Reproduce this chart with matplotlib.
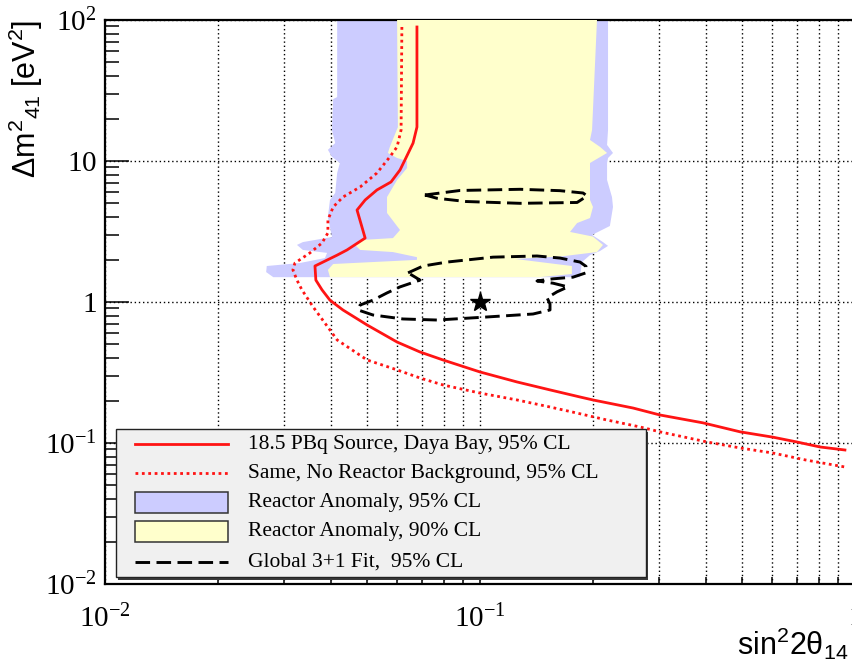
import matplotlib
matplotlib.use('Agg')
import matplotlib.pyplot as plt
from matplotlib.patches import Rectangle
from matplotlib.lines import Line2D
from matplotlib.ticker import FixedLocator, FixedFormatter, LogLocator, NullFormatter
import matplotlib.transforms as mtransforms

plt.rcParams.update({
    'mathtext.fontset': 'custom',
    'mathtext.rm': 'Liberation Serif',
    'mathtext.it': 'Liberation Serif:italic',
    'mathtext.bf': 'Liberation Serif:bold',
    'mathtext.sf': 'Liberation Sans',
    'font.family': ['Liberation Serif', 'DejaVu Serif'],
})

# ---------------- data ----------------
# 18.5 PBq source, Daya Bay, 95% CL (solid red)
red_solid_x = [0.0679, 0.0679, 0.0663, 0.0631, 0.0612, 0.0579, 0.0531, 0.0494, 0.0470, 0.0494,
               0.0442, 0.0416, 0.0363, 0.0365, 0.0379, 0.0398, 0.0431, 0.0500, 0.0601, 0.0692,
               0.0797, 0.100, 0.1255, 0.1537, 0.1848, 0.200, 0.256, 0.302, 0.393, 0.494,
               0.604, 0.696, 0.807, 0.940]
red_solid_y = [89.2, 17.4, 13.4, 10.2, 8.64, 7.10, 6.23, 5.29, 4.49, 2.84,
               2.34, 2.15, 1.80, 1.43, 1.22, 1.03, 0.878, 0.687, 0.520, 0.442,
               0.388, 0.319, 0.271, 0.238, 0.212, 0.202, 0.177, 0.158, 0.139, 0.120,
               0.110, 0.102, 0.0937, 0.0892]

# Same, no reactor background (dotted red)
red_dot_x = [0.0619, 0.0616, 0.0601, 0.0575, 0.0531, 0.0479, 0.0431, 0.0406, 0.0393, 0.0393,
             0.0379, 0.0352, 0.0321, 0.0317, 0.0325, 0.0335, 0.0359, 0.0398, 0.0416, 0.0500,
             0.0601, 0.0692, 0.0797, 0.100, 0.1255, 0.1537, 0.1815, 0.217, 0.267, 0.302,
             0.401, 0.494, 0.604, 0.740, 0.940]
red_dot_y = [89.2, 16.6, 12.6, 10.7, 8.22, 6.54, 5.55, 4.72, 3.82, 3.09,
             2.62, 2.23, 1.89, 1.69, 1.43, 1.22, 0.922, 0.633, 0.538, 0.388,
             0.330, 0.289, 0.258, 0.226, 0.202, 0.180, 0.163, 0.146, 0.130, 0.120,
             0.102, 0.0922, 0.0849, 0.0757, 0.0676]

# Reactor anomaly 95% CL region (blue)
ra95_x = [0.0416, 0.0416, 0.0406, 0.0403, 0.0411, 0.0393, 0.0403, 0.0423, 0.0416, 0.0411,
          0.0398, 0.0393, 0.0403, 0.0337, 0.0325, 0.0337, 0.0391, 0.0386, 0.0331, 0.0270,
          0.0269, 0.0281, 0.1848, 0.187, 0.1965, 0.209, 0.2195, 0.2128, 0.199, 0.222,
          0.2263, 0.2249, 0.2182, 0.2182, 0.2195, 0.2263, 0.2182, 0.2195, 0.2195]
ra95_y = [100, 28.4, 27.5, 16.6, 13.4, 12.0, 10.7, 9.68, 8.22, 5.93,
          5.29, 4.01, 2.89, 2.66, 2.54, 2.34, 2.23, 2.05, 1.89, 1.80,
          1.63, 1.50, 1.50, 1.92, 2.15, 2.30, 2.50, 2.66, 2.99, 3.46,
          4.72, 5.55, 7.33, 9.68, 10.5, 11.4, 13.0, 16.6, 100]

# Reactor anomaly 90% CL region (yellow)
ra90_x = [0.0601, 0.0604, 0.0575, 0.0568, 0.0601, 0.0639, 0.0639, 0.0601, 0.0565, 0.0565,
          0.0612, 0.0586, 0.0479, 0.0464, 0.0479, 0.0586, 0.0679, 0.0679, 0.0406, 0.0393,
          0.0398, 0.1445, 0.1758, 0.1758, 0.124, 0.1634, 0.2051, 0.2128, 0.2001, 0.1738,
          0.1815, 0.1965, 0.2001, 0.1965, 0.1965, 0.2182, 0.2089, 0.1965, 0.199, 0.2051]
ra90_y = [100, 17.4, 12.6, 11.4, 10.5, 10.0, 8.92, 7.33, 5.55, 4.28,
          3.24, 2.84, 2.75, 2.54, 2.34, 2.26, 2.08, 1.99, 1.86, 1.69,
          1.50, 1.50, 1.58, 1.80, 2.02, 2.10, 2.26, 2.54, 2.91, 3.14,
          3.63, 3.94, 4.72, 5.29, 9.68, 11.4, 12.6, 14.1, 16.6, 100]

# Global 3+1 fit, 95% CL (dashed black): upper and lower islands
fit_up_x = [0.0713, 0.0885, 0.128, 0.1634, 0.1883, 0.193, 0.1815, 0.128, 0.0918, 0.0768, 0.0713]
fit_up_y = [5.74, 6.18, 6.30, 6.16, 5.93, 5.65, 5.08, 5.01, 5.16, 5.44, 5.74]
fit_lo_x = [0.0643, 0.0705, 0.0817, 0.1083, 0.1419, 0.1634, 0.1848, 0.1917, 0.1917, 0.177,
            0.1565, 0.1419, 0.1565, 0.1716, 0.1604, 0.151, 0.1537, 0.1537, 0.1385, 0.1044,
            0.0768, 0.0623, 0.0518, 0.0473, 0.0479, 0.0518, 0.0565, 0.0612, 0.0692, 0.0643]
fit_lo_y = [1.61, 1.80, 1.92, 2.08, 2.12, 2.05, 1.92, 1.79, 1.61, 1.50,
            1.46, 1.41, 1.36, 1.28, 1.18, 1.07, 0.968, 0.878, 0.822, 0.783,
            0.745, 0.758, 0.809, 0.878, 0.952, 1.03, 1.16, 1.28, 1.43, 1.61]
best_fit_x = [0.1]
best_fit_y = [1.0]

x_ticks = [0.01, 0.1, 1.0]
x_tick_labels = [r'$10^{-2}$', r'$10^{-1}$', r'$1$']
y_ticks = [0.01, 0.1, 1.0, 10.0, 100.0]
y_tick_labels = [r'$10^{-2}$', r'$10^{-1}$', r'$1$', r'$10$', r'$10^{2}$']

legend_labels = ["18.5 PBq Source, Daya Bay, 95% CL",
                 "Same, No Reactor Background, 95% CL",
                 "Reactor Anomaly, 95% CL",
                 "Reactor Anomaly, 90% CL",
                 "Global 3+1 Fit,  95% CL"]

# ---------------- styles ----------------
RED = '#ff1414'
BLUE = '#ccccff'
YELLOW = '#ffffcc'
DOT = (0, (1, 1.3))
DASH = (0, (5, 2.2))

fig = plt.figure(figsize=(8.53, 6.65), dpi=100)
ax = fig.add_axes([105 / 853, 81 / 665, 750 / 853, 564 / 665])
ax.set_xscale('log')
ax.set_yscale('log')
ax.set_xlim(1e-2, 1)
ax.set_ylim(1e-2, 1e2)

ax.fill(ra95_x, ra95_y, color=BLUE, lw=0, zorder=2)
ax.fill(ra90_x, ra90_y, color=YELLOW, lw=0, zorder=3)
ax.plot(red_dot_x, red_dot_y, color=RED, lw=2.0, ls=DOT, zorder=5)
ax.plot(red_solid_x, red_solid_y, color=RED, lw=2.0, zorder=5)
ax.plot(fit_up_x, fit_up_y, color='k', lw=2.1, ls=DASH, zorder=6)
ax.plot(fit_lo_x, fit_lo_y, color='k', lw=2.1, ls=DASH, zorder=6)
ax.plot(best_fit_x, best_fit_y, ls='none', marker='*', ms=15, color='k', zorder=7)

ax.set_axisbelow(True)
ax.grid(True, which='both', axis='x', color='k', ls=(0, (1, 2)), lw=1.0)
ax.grid(True, which='major', axis='y', color='k', ls=(0, (1, 2)), lw=1.0)

ax.xaxis.set_major_locator(FixedLocator(x_ticks))
ax.xaxis.set_major_formatter(FixedFormatter(x_tick_labels))
ax.xaxis.set_minor_locator(LogLocator(base=10, subs=range(2, 10)))
ax.xaxis.set_minor_formatter(NullFormatter())
ax.yaxis.set_major_locator(FixedLocator(y_ticks))
ax.yaxis.set_major_formatter(FixedFormatter(y_tick_labels))
ax.yaxis.set_minor_locator(LogLocator(base=10, subs=range(2, 10)))
ax.yaxis.set_minor_formatter(NullFormatter())

ax.tick_params(which='both', direction='in', top=False, right=False, color='k')
ax.tick_params(axis='y', which='major', length=17, width=1.1, labelsize=21, pad=6)
ax.tick_params(axis='y', which='minor', length=10, width=1.1)
ax.tick_params(axis='x', which='major', length=9, width=1.1, labelsize=21, pad=15)
ax.tick_params(axis='x', which='minor', length=5, width=1.1)
for s in ax.spines.values():
    s.set_linewidth(1.6)

ax.set_ylabel(r'$\mathsf{\Delta m^{2}{}_{41}\ [eV^{2}]}$', fontsize=22, loc='top')
ax.yaxis.set_label_coords(-0.080, 1.0)
ax.set_xlabel(r'$\mathsf{sin^{2}2\theta_{14}}$', fontsize=22, loc='right')
ax.xaxis.set_label_coords(0.9907, -0.074)

# ---------------- legend (drawn as a box in axes fraction) ----------------
T = ax.transAxes
lx0, ly0, lw_, lh_ = 0.0143, 0.0124, 0.7070, 0.2619
shadow_tr = mtransforms.offset_copy(T, fig=fig, x=1.8, y=-1.8, units='points')
ax.add_patch(Rectangle((lx0, ly0), lw_, lh_, transform=shadow_tr, facecolor='#3a3a3a',
                       edgecolor='none', zorder=9, clip_on=False))
ax.add_patch(Rectangle((lx0, ly0), lw_, lh_, transform=T, facecolor='#f0f0f0',
                       edgecolor='#222222', lw=1.0, zorder=10, clip_on=False))
rows = [0.2482, 0.1962, 0.1441, 0.0927, 0.0395]
hx0, hx1 = 0.040, 0.164
ph = 0.0367
ax.add_artist(Line2D([hx0, hx1], [rows[0]] * 2, transform=T, color=RED, lw=2.0, zorder=11))
ax.add_artist(Line2D([hx0, hx1], [rows[1]] * 2, transform=T, color=RED, lw=2.0, ls=DOT, zorder=11))
ax.add_patch(Rectangle((hx0, rows[2] - ph / 2), hx1 - hx0, ph, transform=T, facecolor=BLUE,
                       edgecolor='#333333', lw=1.1, zorder=11))
ax.add_patch(Rectangle((hx0, rows[3] - ph / 2), hx1 - hx0, ph, transform=T, facecolor=YELLOW,
                       edgecolor='#333333', lw=1.1, zorder=11))
ax.add_artist(Line2D([hx0, hx1], [rows[4]] * 2, transform=T, color='k', lw=2.1, ls=DASH, zorder=11))
for yy, lab in zip(rows, legend_labels):
    ax.text(0.1911, yy, lab, transform=T, fontsize=15.5, va='center', ha='left',
            family='Liberation Serif', zorder=12)

fig.savefig('out.png', dpi=100)
